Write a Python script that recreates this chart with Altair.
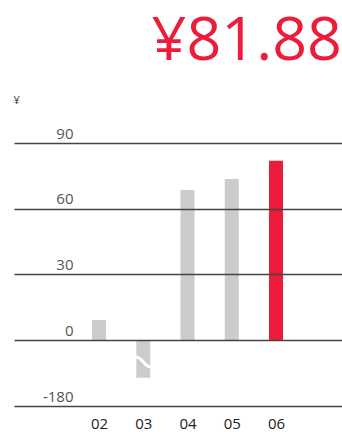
import altair as alt
import pandas as pd

years = ["02", "03", "04", "05", "06"]
eps = [9.1, -103, 68.5, 73.6, 81.88]
tick_values = [-180, 0, 30, 60, 90]
highlight_year = "06"
headline = "¥81.88"
unit = "¥"
break_value = -60  # where the bar of 03 is broken

RED = "#EC1C3B"
GRAY = "#CCCCCC"

df = pd.DataFrame({"year": years, "eps": eps})
df["yr"] = df["year"].astype(int)
brk = pd.DataFrame({"year": ["03"], "eps": [break_value]})
brk["yr"] = brk["year"].astype(int)
head = pd.DataFrame({"t": [headline]})

W, H = 328, 263
yscale = alt.Scale(domain=[-180, 0, 90], range=[H, 197, 0], nice=False)
xscale = alt.Scale(domain=[0.079, 7.4915], nice=False, zero=False, padding=0)

bars = alt.Chart(df).mark_bar(size=14).encode(
    x=alt.X("yr:Q", scale=xscale,
            axis=alt.Axis(orient="bottom", values=[int(y) for y in years],
                          labelExpr="'0' + datum.value",
                          ticks=False, domain=False, grid=False,
                          labelPadding=10, labelFontSize=15, labelColor="#222",
                          labelFont="Open Sans", labelAngle=0, title=None)),
    y=alt.Y("eps:Q", scale=yscale,
            axis=alt.Axis(orient="left", values=tick_values, grid=True,
                          labelExpr="'' + datum.value",
                          gridColor="#444", gridWidth=1.5, ticks=False, domain=False,
                          labelAlign="right", labelBaseline="alphabetic",
                          labelPadding=-59, labelOffset=-5, labelFontSize=15,
                          labelColor="#555", labelFont="Open Sans", zindex=1,
                          title=unit, titleAngle=0, titleX=-1, titleY=-43,
                          titleAlign="left", titleBaseline="middle",
                          titleFontSize=11, titleFontWeight="normal",
                          titleColor="#333", titleFont="Open Sans")),
    color=alt.condition(alt.datum.year == highlight_year, alt.value(RED), alt.value(GRAY)),
)

wave = alt.Chart(brk).mark_point(
    shape="M-1,-0.62 C0,-0.62 0,0.62 1,0.62",
    filled=False, color="white", strokeWidth=3, size=256, opacity=1,
).encode(
    x=alt.X("yr:Q", scale=xscale),
    y=alt.Y("eps:Q", scale=yscale),
)

title_text = alt.Chart(head).mark_text(
    align="right", baseline="alphabetic", fontSize=61, font="Open Sans",
    color=RED,
).encode(
    text="t:N",
    x=alt.value(W),
    y=alt.value(-83),
)

chart = alt.layer(bars, wave, title_text).properties(
    width=W, height=H,
    padding={"left": 14, "top": 143, "right": 0, "bottom": 26},
    autosize=alt.AutoSizeParams(type="none"),
).configure_view(stroke=None)

chart.save("out.html", embed_options={"renderer": "svg", "actions": False})
